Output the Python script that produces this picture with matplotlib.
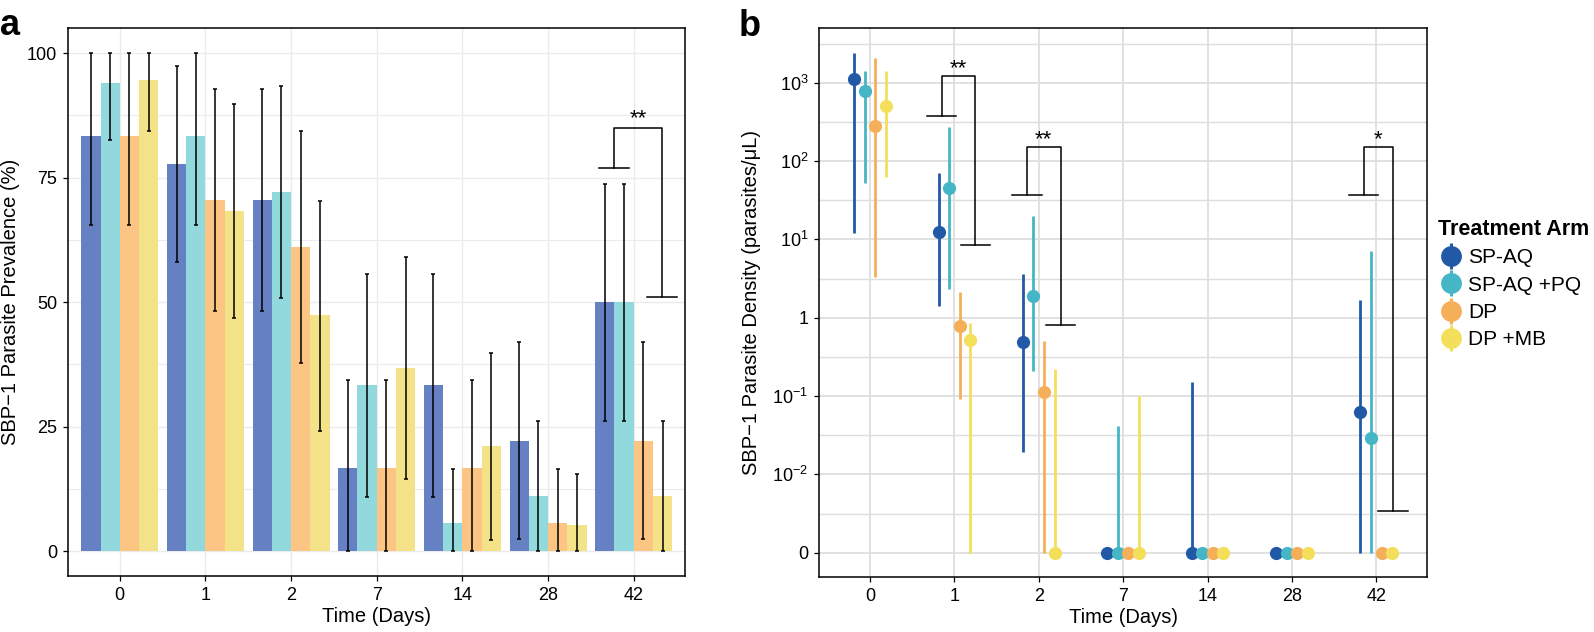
import numpy as np
import matplotlib
matplotlib.use("Agg")
import matplotlib.pyplot as plt
from matplotlib.lines import Line2D
from matplotlib.ticker import FixedLocator, NullFormatter

plt.rcParams.update({
    "font.family": ["Liberation Sans", "DejaVu Sans"],
    "mathtext.fontset": "custom",
    "mathtext.rm": "Liberation Sans",
    "mathtext.it": "Liberation Sans:italic",
    "mathtext.bf": "Liberation Sans:bold",
})

# ---- data ----
DAYS = ["0", "1", "2", "7", "14", "28", "42"]
ARMS = ["SP-AQ", "SP-AQ +PQ", "DP", "DP +MB"]

# panel a: prevalence (%) with 95% CI
PREV_SPAQ = [83.3, 77.8, 70.6, 16.7, 33.3, 22.2, 50.0]
PREV_SPAQ_LO = [65.5, 58.0, 48.2, 0.0, 10.8, 2.4, 26.2]
PREV_SPAQ_HI = [100.0, 97.5, 92.9, 34.3, 55.7, 42.0, 73.8]

PREV_SPAQPQ = [94.1, 83.3, 72.2, 33.3, 5.6, 11.1, 50.0]
PREV_SPAQPQ_LO = [82.5, 65.5, 50.9, 10.8, 0.0, 0.0, 26.2]
PREV_SPAQPQ_HI = [100.0, 100.0, 93.4, 55.7, 16.4, 26.1, 73.8]

PREV_DP = [83.3, 70.6, 61.1, 16.7, 16.7, 5.6, 22.2]
PREV_DP_LO = [65.5, 48.2, 37.8, 0.0, 0.0, 0.0, 2.4]
PREV_DP_HI = [100.0, 92.9, 84.3, 34.3, 34.3, 16.4, 42.0]

PREV_DPMB = [94.7, 68.4, 47.4, 36.8, 21.1, 5.3, 11.1]
PREV_DPMB_LO = [84.3, 46.9, 24.2, 14.5, 2.2, 0.0, 0.0]
PREV_DPMB_HI = [100.0, 89.8, 70.4, 59.1, 39.8, 15.5, 26.1]

# panel b: parasite density (parasites/uL) with 95% CI
DENS_SPAQ = [1105, 12.4, 0.49, 0, 0, 0, 0.063]
DENS_SPAQ_LO = [11.9, 1.41, 0.0194, 0, 0, 0, 0]
DENS_SPAQ_HI = [2370, 69.7, 3.57, 0, 0.153, 0, 1.66]

DENS_SPAQPQ = [791, 45.6, 1.89, 0, 0, 0, 0.0287]
DENS_SPAQPQ_LO = [52.4, 2.32, 0.208, 0, 0, 0, 0]
DENS_SPAQPQ_HI = [1410, 269, 19.9, 0.042, 0, 0, 7.1]

DENS_DP = [282, 0.79, 0.112, 0, 0, 0, 0]
DENS_DP_LO = [3.33, 0.092, 0, 0, 0, 0, 0]
DENS_DP_HI = [2050, 2.12, 0.51, 0, 0, 0, 0]

DENS_DPMB = [504, 0.52, 0, 0, 0, 0, 0]
DENS_DPMB_LO = [63, 0, 0, 0, 0, 0, 0]
DENS_DPMB_HI = [1423, 0.86, 0.222, 0.1, 0, 0, 0]

# significance brackets
SIG_A_X = [(5.77, 6.33)]
SIG_A_Y = [(85.0, 76.9, 51.1)]      # top, left end, right end
SIG_A_LABEL = ["**"]

SIG_B_X = [(0.85, 1.25), (1.86, 2.26), (5.85, 6.20)]
SIG_B_Y = [(1216, 375, 8.53), (151, 36.8, 0.817), (151, 36.8, 0.00342)]
SIG_B_LABEL = ["**", "**", "*"]

BAR_COLORS = ["#6680C4", "#92D9DE", "#FDC583", "#F4E288"]
PT_COLORS = ["#2259A6", "#45B6C5", "#F5AF58", "#F4DF5B"]
ZERO_FLOOR = 1e-3


def floor0(v):
    v = np.asarray(v, dtype=float)
    return np.where(v <= 0, ZERO_FLOOR, v)


def bracket(ax, xl, xr, top, yl, yr, label, half=0.175, lift=1):
    kw = dict(color="black", lw=1.1, zorder=5)
    ax.plot([xl, xl, xr, xr], [yl, top, top, yr], **kw)
    ax.plot([xl - half, xl + half], [yl, yl], **kw)
    ax.plot([xr - half, xr + half], [yr, yr], **kw)
    ax.annotate(label, ((xl + xr) / 2, top), xytext=(0, lift),
                textcoords="offset points", ha="center", va="baseline",
                fontsize=16)


def style_axes(ax, grid_color, grid_lw):
    ax.set_axisbelow(True)
    ax.grid(which="major", color=grid_color, lw=grid_lw)
    ax.grid(which="minor", axis="y", color=grid_color, lw=grid_lw * 0.8)
    for s in ax.spines.values():
        s.set_color("black")
        s.set_linewidth(1.1)
    ax.tick_params(which="major", length=3.5, width=0.9, pad=4.5,
                   labelsize=13, color="black", labelcolor="black")
    ax.tick_params(which="minor", length=0)


fig = plt.figure(figsize=(15.94, 6.32), dpi=100)
ax1 = fig.add_axes([0.0429, 0.0886, 0.3869, 0.8666])
ax2 = fig.add_axes([0.514, 0.0866, 0.3812, 0.8687])

x = np.arange(len(DAYS))

# ---- panel a ----
prev = [(PREV_SPAQ, PREV_SPAQ_LO, PREV_SPAQ_HI),
        (PREV_SPAQPQ, PREV_SPAQPQ_LO, PREV_SPAQPQ_HI),
        (PREV_DP, PREV_DP_LO, PREV_DP_HI),
        (PREV_DPMB, PREV_DPMB_LO, PREV_DPMB_HI)]
bar_w = 0.225
for i, (v, lo, hi) in enumerate(prev):
    v, lo, hi = np.array(v), np.array(lo), np.array(hi)
    pos = x + (i - 1.5) * bar_w
    ax1.bar(pos, v, width=bar_w, color=BAR_COLORS[i], zorder=2)
    ax1.errorbar(pos, v, yerr=[v - lo, hi - v], fmt="none", ecolor="black",
                 elinewidth=1.1, capsize=1.6, capthick=1.1, zorder=3)

for (xl, xr), (top, yl, yr), lab in zip(SIG_A_X, SIG_A_Y, SIG_A_LABEL):
    bracket(ax1, xl, xr, top, yl, yr, lab, half=0.17, lift=3)

ax1.set_xlim(-0.6, 6.6)
ax1.set_ylim(-5, 105)
ax1.set_xticks(x)
ax1.set_xticklabels(DAYS)
ax1.set_yticks([0, 25, 50, 75, 100])
ax1.yaxis.set_minor_locator(FixedLocator([12.5, 37.5, 62.5, 87.5]))
style_axes(ax1, "#EBEBEB", 1.0)
ax1.set_xlabel("Time (Days)", fontsize=14.5, labelpad=2)
ax1.set_ylabel("SBP\u22121 Parasite Prevalence (%)", fontsize=14.5)
ax1.yaxis.set_label_coords(-0.079, 0.5)

# ---- panel b ----
dens = [(DENS_SPAQ, DENS_SPAQ_LO, DENS_SPAQ_HI),
        (DENS_SPAQPQ, DENS_SPAQPQ_LO, DENS_SPAQPQ_HI),
        (DENS_DP, DENS_DP_LO, DENS_DP_HI),
        (DENS_DPMB, DENS_DPMB_LO, DENS_DPMB_HI)]
handles = []
for i, (v, lo, hi) in enumerate(dens):
    pos = x + (i - 1.5) * 0.125
    ax2.vlines(pos, floor0(lo), floor0(hi), color=PT_COLORS[i], lw=2.0, zorder=3)
    ax2.plot(pos, floor0(v), "o", ms=9.5, color=PT_COLORS[i], mec="none", zorder=4)
    handles.append((Line2D([], [], marker="|", ms=19, mew=2.2, ls="none", color=PT_COLORS[i]),
                    Line2D([], [], marker="o", ms=15, mec="none", ls="none", color=PT_COLORS[i])))

for (xl, xr), (top, yl, yr), lab in zip(SIG_B_X, SIG_B_Y, SIG_B_LABEL):
    bracket(ax2, xl, xr, top, yl, yr, lab, half=0.175, lift=1)

ax2.set_yscale("log")
ax2.set_xlim(-0.6, 6.6)
ax2.set_ylim(10 ** -3.314, 10 ** 3.695)
ax2.set_xticks(x)
ax2.set_xticklabels(DAYS)
ax2.set_yticks([1e-3, 1e-2, 1e-1, 1, 1e1, 1e2, 1e3])
ax2.set_yticklabels(["0", "$10^{-2}$", "$10^{-1}$", "1", "$10^{1}$", "$10^{2}$", "$10^{3}$"])
ax2.yaxis.set_minor_locator(FixedLocator(10 ** np.arange(-2.5, 3.6, 1.0)))
ax2.yaxis.set_minor_formatter(NullFormatter())
style_axes(ax2, "#DEDEDE", 1.3)
ax2.set_xlabel("Time (Days)", fontsize=14.5, labelpad=2)
ax2.set_ylabel("SBP\u22121 Parasite Density (parasites/\u03bcL)", fontsize=14.5)
ax2.yaxis.set_label_coords(-0.096, 0.5)

leg = fig.legend(handles, ARMS, loc="upper left", bbox_to_anchor=(1438 / 1594, 1 - 219 / 632),
                 frameon=False, title="Treatment Arm", fontsize=15,
                 title_fontproperties={"weight": "bold", "size": 15.5},
                 alignment="left", handlelength=1.2, handletextpad=0.25,
                 labelspacing=0.4, borderpad=0, borderaxespad=0)

fig.text(0.0, 1 - 35 / 632, "a", fontsize=26, fontweight="bold", va="baseline")
fig.text(739 / 1594, 1 - 36 / 632, "b", fontsize=26, fontweight="bold", va="baseline")

fig.savefig("out.png", dpi=100)
